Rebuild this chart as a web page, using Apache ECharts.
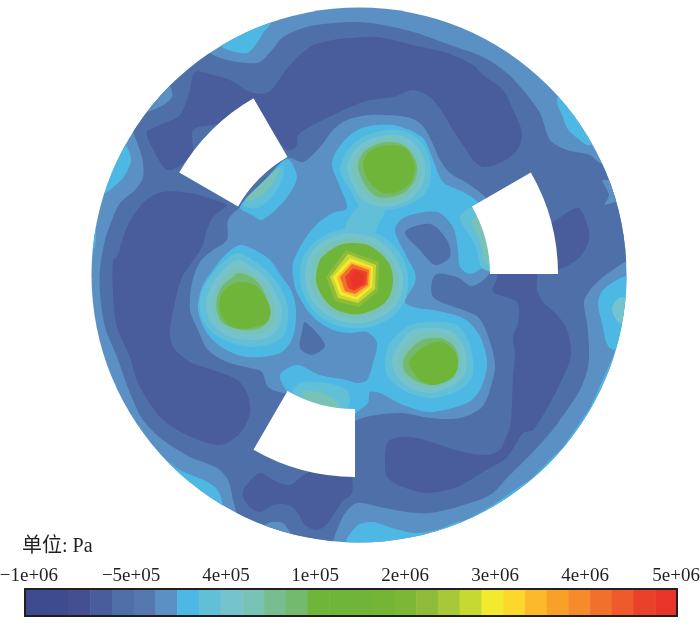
<!DOCTYPE html>
<html>
<head>
<meta charset="utf-8">
<title>Pressure contour</title>
<script src="https://cdn.jsdelivr.net/npm/echarts@6/dist/echarts.min.js"></script>
<style>
  html, body { margin: 0; background: #fff; }
  #chart { width: 700px; height: 623px; }
</style>
</head>
<body>
<div id="chart"></div>
<script>
// colour levels, left to right on the colour bar
const levelColors = [
  '#3d4a8e', '#3f4b8f', '#444f92', '#495c9c', '#4f6fa9', '#5578ae', '#5a90c4', '#4db8e3',
  '#62bfd8', '#75c3cd', '#78c2b6', '#77bd8f', '#73ba6f', '#6fb53a', '#6fb53a', '#70b539',
  '#74b536', '#7cb735', '#8fbb38', '#a8c83a', '#c6d932', '#f2ea2e', '#fdd82c', '#fcb92a',
  '#f9a029', '#f58b2b', '#f0702c', '#ee5a2b', '#ea412b', '#e9342a'
]
const tickLabels = ['\u22121e+06', '\u22125e+05', '4e+05', '1e+05', '2e+06', '3e+06', '4e+06', '5e+06']
const tickCells = [0.18, 4.88, 9.25, 13.35, 17.49, 21.63, 25.77, 29.96]

// named levels used by the field below
const DARK = 3, MID = 4, PALE = 6, CYAN = 7, T1 = 8, T2 = 9, T3 = 10, T4 = 12, T5 = 13, GREEN = 13

// disc and blade holes
const discCenter = [359, 275]
const discRadius = 267.5
const holeCenter = [355, 274]
const holeRadii = [135, 203]
const holeStartDeg = [0, 120, 240]
const holeSweepDeg = 30

// isobands, field coordinates
const midMain = [[208,52],[227,60],[247,63],[260,62],[272,50],[283,37],[307,27],[333,23],[360,22],[383,25],[417,33],[450,45],[483,57],[507,73],[523,90],[540,113],[550,140],[567,150],[590,155],[600,163],[640,170],[640,250],[620,265],[603,277],[590,290],[584,302],[587,323],[589,347],[588,367],[580,390],[567,410],[550,433],[530,455],[507,478],[490,495],[457,507],[430,513],[407,512],[380,507],[357,503],[345,513],[337,530],[330,545],[300,560],[237,540],[237,517],[233,500],[228,480],[217,468],[190,457],[163,440],[143,420],[130,393],[117,357],[105,327],[100,293],[100,270],[105,240],[112,220],[120,203],[135,190],[143,177],[142,157],[132,130],[125,115],[160,60],[200,40]]
const paleEdgeBottom = [[265,525],[273,522],[283,523],[290,532],[295,537],[280,550],[260,540]]
const paleEdgeUpperLeft = [[170,85],[172,97],[160,107],[143,112],[120,100],[160,60]]
const paleEdgeRight = [[603,180],[609,195],[605,205],[640,190]]
const cyanEdgeTop = [[220,45],[228,50],[247,53],[257,43],[263,33],[272,20],[260,0],[215,30]]
const cyanEdgeLeft = [[124,142],[131,160],[123,178],[110,190],[102,197],[97,213],[96,225],[93,250],[70,250],[80,200],[110,130]]
const cyanEdgeUpperRight = [[557,100],[563,117],[567,128],[577,138],[590,145],[620,120],[570,85]]
const cyanEdgeRight = [[623,277],[603,290],[598,303],[602,323],[610,348],[640,350],[640,275]]
const tealEdgeRight = [[622,297],[612,308],[620,323],[640,310]]
const cyanEdgeLowerLeft = [[160,458],[180,470],[215,487],[222,508],[200,530],[130,480]]
const cyanEdgeBottom = [[347,543],[358,525],[373,522],[392,528],[415,533],[437,530],[463,522],[470,545],[400,560]]
const cyanSliverRight = [[613,357],[590,408],[564,446],[531,479],[493,505],[463,522],[480,560],[600,520],[660,400]]
const darkNorth = [[195,72],[213,75],[230,80],[250,92],[267,93],[277,83],[288,67],[310,47],[333,40],[350,38],[377,37],[413,45],[447,53],[473,65],[483,75],[503,90],[513,110],[522,133],[517,150],[500,163],[483,167],[473,160],[465,148],[453,130],[443,113],[430,97],[413,90],[393,97],[370,100],[360,103],[333,115],[313,125],[298,135],[297,145],[287,150],[260,120],[213,125],[193,130],[192,155],[168,170],[152,147],[147,132],[160,125],[180,115],[190,90]]
const darkWest = [[162,192],[190,193],[220,202],[227,205],[213,217],[207,230],[202,247],[190,265],[183,275],[177,293],[170,330],[173,347],[190,362],[213,370],[237,380],[247,393],[250,413],[240,433],[220,445],[187,435],[160,417],[138,383],[130,357],[117,327],[113,293],[113,260],[117,257],[127,227],[143,203]]
const darkEast = [[497,278],[493,292],[517,302],[518,323],[513,337],[515,353],[513,377],[512,403],[510,427],[505,440],[500,450],[487,455],[463,452],[440,445],[417,438],[400,437],[388,442],[385,463],[387,477],[403,487],[427,493],[457,487],[483,472],[507,457],[523,433],[533,430],[550,403],[563,377],[571,355],[567,330],[557,315],[543,302],[537,290],[535,270],[497,270]]
const darkRight = [[545,225],[553,222],[578,208],[588,227],[589,240],[580,257],[567,266],[556,270],[545,272]]
const darkSouth = [[245,487],[260,473],[273,480],[290,485],[307,473],[330,470],[350,475],[352,493],[342,502],[330,520],[318,530],[305,525],[298,513],[288,505],[273,505],[260,512],[250,507],[243,497]]
const paleInner = [[288,158],[303,162],[320,147],[333,130],[347,120],[370,115],[407,117],[422,125],[432,142],[440,160],[450,173],[467,183],[485,197],[510,230],[490,273],[472,286],[457,277],[435,275],[433,297],[463,310],[478,317],[487,333],[495,363],[492,383],[482,407],[460,418],[430,418],[400,413],[357,420],[340,440],[300,430],[288,393],[283,393],[268,387],[262,372],[250,368],[227,362],[208,350],[198,330],[190,310],[192,283],[200,262],[213,250],[227,240],[228,220],[240,207],[265,180]]
const midPatchEast = [[405,232],[430,224],[447,240],[450,257],[435,265],[420,250]]
const midPatchCentre = [[305,322],[325,345],[312,355],[300,348],[302,332]]
const cyanCore = [[332,163],[343,142],[362,128],[393,125],[422,137],[432,157],[443,182],[463,192],[478,202],[500,230],[490,268],[483,268],[470,274],[460,267],[458,250],[453,227],[437,212],[405,217],[395,230],[407,257],[415,273],[415,283],[405,302],[417,308],[433,310],[463,318],[478,333],[485,350],[487,367],[480,390],[467,403],[430,412],[403,405],[380,393],[370,392],[368,403],[357,412],[340,430],[300,420],[287,392],[280,375],[297,365],[320,375],[347,380],[357,383],[367,380],[373,363],[377,343],[367,332],[350,333],[333,330],[313,317],[297,293],[293,277],[293,263],[303,242],[318,223],[333,213],[347,208],[340,187]]
const cyanWest = [[240,245],[255,250],[270,260],[282,277],[292,292],[296,310],[293,337],[280,353],[247,357],[223,348],[207,333],[198,310],[202,287],[213,270],[225,255]]
const cyanHoleNw = [[287,159],[297,177],[285,200],[262,220],[252,215],[240,207],[265,180]]
const tealHoleNw1 = [[283,165],[283,177],[272,197],[257,208],[243,205],[265,180]]
const tealHoleNw2 = [[280,167],[270,187],[253,200],[245,200],[265,180]]
const tealHoleS1 = [[293,393],[300,383],[320,382],[347,390],[348,407],[320,420]]
const tealHoleS2 = [[302,393],[320,392],[337,402],[340,410],[320,420]]
const tealHoleE1 = [[460,218],[472,208],[495,230],[495,270],[482,268],[475,245]]
const tealHoleE2 = [[472,222],[480,215],[495,240],[495,265],[485,262],[480,240]]
const tealArm = [[360,205],[385,208],[378,225],[372,236],[345,232]]

const westT1 = [[237,253],[253,260],[268,272],[280,287],[288,308],[285,333],[273,343],[253,347],[232,343],[213,333],[202,318],[200,298],[208,280],[222,263]]
const westT2 = [[237,260],[252,267],[265,277],[275,292],[282,310],[278,328],[267,338],[250,340],[230,337],[215,327],[207,313],[207,298],[213,283],[225,268]]
const westT3 = [[237,267],[252,273],[263,283],[272,298],[275,312],[272,325],[260,333],[247,334],[230,330],[218,322],[213,310],[213,297],[220,282],[228,273]]
const westT4 = [[238,273],[253,278],[262,288],[268,302],[271,313],[265,325],[252,330],[237,329],[223,323],[217,312],[217,298],[223,285],[232,278]]
const westT5 = [[240,282],[255,285],[265,297],[270,310],[267,322],[250,328],[232,327],[221,315],[220,298],[228,287]]

const southEastT1 = [[390,343],[410,325],[437,322],[457,325],[468,340],[473,360],[472,377],[460,390],[433,398],[407,392],[388,377],[385,360]]
const southEastT2 = [[397,347],[413,330],[437,328],[453,332],[463,345],[467,362],[463,377],[450,387],[430,393],[408,387],[395,373],[392,360]]
const southEastT3 = [[402,350],[418,335],[438,333],[453,338],[460,350],[462,363],[458,375],[447,383],[430,388],[412,383],[400,372],[398,360]]
const southEastT4 = [[407,353],[422,340],[440,338],[453,345],[458,355],[458,367],[452,378],[435,385],[418,382],[405,372],[403,362]]
const southEastT5 = [[412,357],[427,345],[442,342],[455,352],[458,365],[452,378],[433,385],[420,380],[412,370],[409,363]]

const northT1 = [[340,170],[348,150],[363,137],[387,130],[407,132],[422,143],[430,160],[430,183],[422,197],[400,208],[380,210],[363,210],[350,190]]
const northT2 = [[347,168],[353,152],[368,140],[387,135],[405,137],[418,148],[425,163],[423,183],[413,197],[397,205],[380,207],[363,200],[353,185]]
const northT3 = [[352,167],[358,153],[372,143],[388,138],[403,142],[415,152],[420,165],[419,182],[408,195],[393,202],[378,202],[365,193],[357,182]]
const northT4 = [[358,165],[363,153],[375,145],[390,142],[403,145],[413,155],[417,167],[415,180],[405,192],[392,197],[378,197],[367,188],[361,177]]
const northT5 = [[363,163],[368,153],[378,147],[392,145],[405,148],[413,160],[415,170],[410,183],[397,192],[383,193],[370,183],[365,173]]

const centreT1 = [[300,277],[303,257],[315,242],[330,233],[350,228],[373,232],[390,242],[403,258],[408,278],[405,300],[392,317],[370,327],[350,328],[330,323],[313,310],[303,293]]
const centreT2 = [[305,277],[308,258],[318,245],[333,237],[350,233],[372,237],[387,247],[398,262],[403,278],[400,298],[388,313],[368,322],[350,323],[332,318],[317,307],[308,293]]
const centreT3 = [[311,277],[314,260],[323,248],[337,241],[352,238],[370,242],[383,251],[393,263],[398,280],[395,297],[385,308],[367,317],[350,318],[333,313],[322,303],[313,292]]
const centreGreen = [[316,277],[320,260],[328,252],[340,245],[352,243],[368,245],[380,253],[390,265],[393,280],[390,295],[382,305],[365,313],[350,314],[335,309],[325,300],[318,288]]
const centre18 = [[326,277],[346,250],[379,262],[378,291],[359,307],[335,301]]
const centre20 = [[330,277],[348,254],[376,265],[375,289],[358,303],[338,298]]
const centre21 = [[333,277],[350,258],[373,267],[372,287],[357,300],[340,295]]
const centre23 = [[337,277],[351,262],[371,268],[370,286],[356,297],[342,292]]
const centre26 = [[340,277],[352,264],[369,270],[368,285],[355,294],[345,291]]
const centre28 = [[345,277],[353,268],[367,272],[366,284],[354,291],[348,288]]
const centre29 = [[350,278],[355,270],[364,274],[363,284],[353,289]]

// painter order, low bands first; sharp holds the polygons that keep their corners
const bands = [
  [CYAN, cyanEdgeTop], [CYAN, cyanEdgeLeft], [CYAN, cyanEdgeUpperRight], [CYAN, cyanEdgeRight],
  [T2, tealEdgeRight], [CYAN, cyanEdgeLowerLeft], [CYAN, cyanSliverRight], [CYAN, cyanEdgeBottom],
  [MID, midMain], [PALE, paleEdgeBottom], [PALE, paleEdgeUpperLeft], [PALE, paleEdgeRight],
  [DARK, darkNorth], [DARK, darkWest], [DARK, darkEast], [DARK, darkRight], [DARK, darkSouth],
  [PALE, paleInner], [MID, midPatchEast], [MID, midPatchCentre],
  [CYAN, cyanCore], [CYAN, cyanWest], [CYAN, cyanHoleNw],
  [T1, tealHoleNw1], [T3, tealHoleNw2], [T1, tealHoleS1], [T3, tealHoleS2], [T1, tealHoleE1], [T3, tealHoleE2],
  [T1, tealArm],
  [T1, westT1], [T2, westT2], [T3, westT3], [T4, westT4], [T5, westT5],
  [T1, southEastT1], [T2, southEastT2], [T3, southEastT3], [T4, southEastT4], [T5, southEastT5],
  [T1, northT1], [T2, northT2], [T3, northT3], [T4, northT4], [T5, northT5],
  [T1, centreT1], [T2, centreT2], [T3, centreT3], [GREEN, centreGreen],
  [18, centre18], [20, centre20], [21, centre21], [23, centre23], [26, centre26], [28, centre28], [29, centre29]
]
const sharp = [cyanSliverRight, centre18, centre20, centre21, centre23, centre26, centre28, centre29]

const FONT = '"Liberation Serif", "Noto Sans CJK SC", serif'
const chart = echarts.init(document.getElementById('chart'), null, { renderer: 'canvas' })

function discClip(api) {
  const c = api.coord(discCenter)
  return { type: 'circle', shape: { cx: c[0], cy: c[1], r: api.size([discRadius, 0])[0] } }
}

function renderDisc(params, api) {
  return Object.assign(discClip(api), { style: { fill: levelColors[PALE] } })
}

function renderBand(params, api) {
  const band = bands[params.dataIndex]
  return {
    type: 'polygon',
    shape: { points: band[1].map(p => api.coord(p)), smooth: sharp.includes(band[1]) ? 0 : 0.3 },
    style: { fill: levelColors[band[0]] },
    clipPath: discClip(api)
  }
}

function renderHole(params, api) {
  const c = api.coord(holeCenter)
  const start = holeStartDeg[params.dataIndex] * Math.PI / 180
  return {
    type: 'sector',
    shape: {
      cx: c[0], cy: c[1],
      r0: api.size([holeRadii[0], 0])[0],
      r: api.size([holeRadii[1], 0])[0],
      startAngle: -start - holeSweepDeg * Math.PI / 180,
      endAngle: -start,
      clockwise: true
    },
    style: { fill: '#fff' }
  }
}

function renderCell(params, api) {
  const a = api.coord([api.value(0), 0])
  const b = api.coord([api.value(0) + 1, 1])
  return {
    type: 'rect',
    shape: { x: a[0], y: b[1], width: b[0] - a[0] + 0.5, height: a[1] - b[1] },
    style: { fill: levelColors[api.value(0)] }
  }
}

function renderFrame(params, api) {
  const a = api.coord([0, 0])
  const b = api.coord([30, 1])
  return {
    type: 'rect',
    shape: { x: a[0], y: b[1], width: b[0] - a[0], height: a[1] - b[1] },
    style: { fill: 'none', stroke: '#231f20', lineWidth: 2 }
  }
}

const fieldSeries = { type: 'custom', xAxisIndex: 0, yAxisIndex: 0, clip: false, silent: true, animation: false }
const barSeries = { type: 'custom', xAxisIndex: 1, yAxisIndex: 1, clip: false, silent: true, animation: false }

chart.setOption({
  animation: false,
  backgroundColor: '#fff',
  title: {
    text: '\u5355\u4f4d: Pa',
    left: 22,
    top: 537,
    padding: 0,
    textStyle: { fontFamily: FONT, fontSize: 20, fontWeight: 'normal', color: '#231f20' }
  },
  grid: [
    { left: 0, top: 0, width: 700, height: 623, outerBoundsMode: 'none' },
    { left: 25, top: 589, width: 652, height: 27, outerBoundsMode: 'none' }
  ],
  xAxis: [
    { type: 'value', gridIndex: 0, min: 0, max: 700, show: false },
    {
      type: 'value',
      gridIndex: 1,
      min: 0,
      max: 30,
      position: 'top',
      axisLine: { show: false },
      axisTick: { show: false },
      splitLine: { show: false },
      axisLabel: {
        customValues: tickCells,
        margin: 3,
        fontFamily: FONT,
        fontSize: 19,
        color: '#231f20',
        hideOverlap: false,
        formatter: v => tickLabels[tickCells.indexOf(v)]
      }
    }
  ],
  yAxis: [
    { type: 'value', gridIndex: 0, min: 0, max: 623, inverse: true, show: false },
    { type: 'value', gridIndex: 1, min: 0, max: 1, show: false }
  ],
  series: [
    Object.assign({ name: 'disc', data: [[0, 0]], renderItem: renderDisc }, fieldSeries),
    Object.assign({ name: 'bands', data: bands.map((b, i) => [i, b[0]]), renderItem: renderBand }, fieldSeries),
    Object.assign({ name: 'holes', data: holeStartDeg.map((d, i) => [i, d]), renderItem: renderHole }, fieldSeries),
    Object.assign({ name: 'levels', data: levelColors.map((c, i) => [i, 1]), renderItem: renderCell }, barSeries),
    Object.assign({ name: 'frame', data: [[0, 1]], renderItem: renderFrame }, barSeries)
  ]
})
</script>
</body>
</html>
